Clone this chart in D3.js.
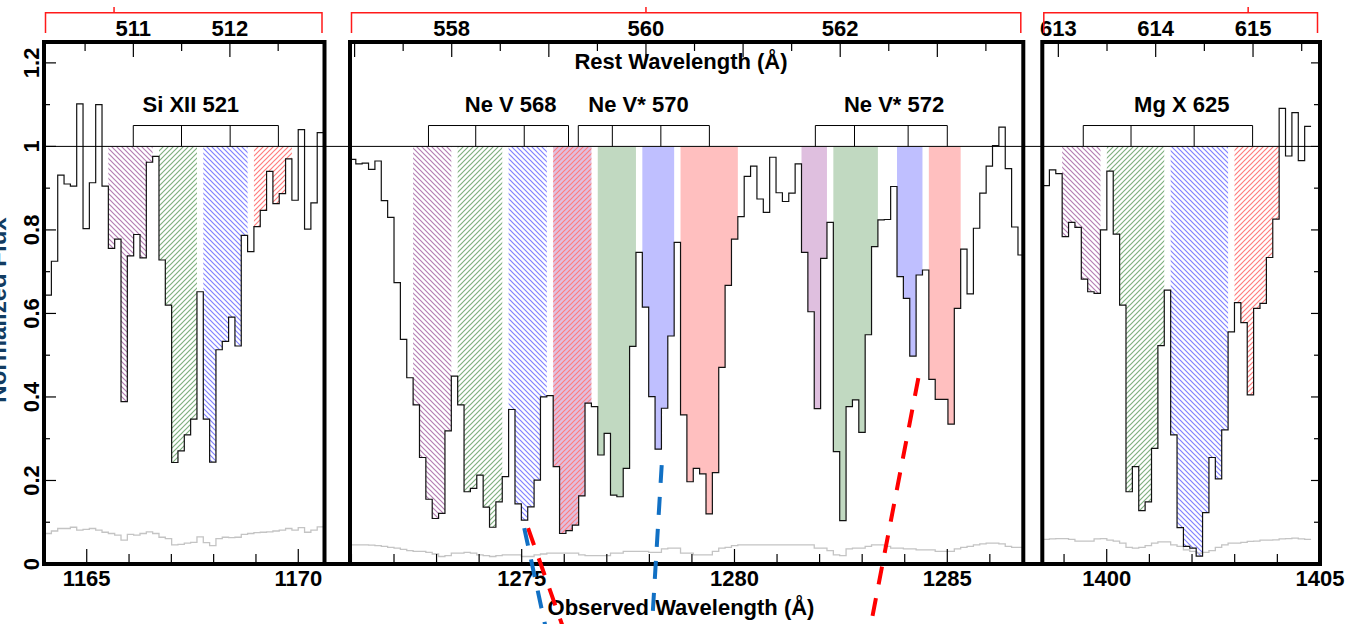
<!DOCTYPE html>
<html>
<head>
<meta charset="utf-8">
<script src="https://cdn.jsdelivr.net/npm/d3@7"></script>
<style>
  body { margin: 0; background: #fff; }
  svg { display: block; }
  text { font-family: "Liberation Sans", Arial, sans-serif; font-weight: bold; fill: #000; }
</style>
</head>
<body>
<div id="chart"></div>
<script>
// ---- data ----
const binWidth = 0.1496;      // observed Angstrom per pixel
const restFactor = 2.282;     // 1 + z used for the rest-frame axis

// observed wavelength of the first pixel in each window
const leftStart = 1164.015;
const midStart = 1270.953;
const rightStart = 1398.507;

const leftFlux = [0.644, 0.725, 0.931, 0.91, 0.905, 1.102, 0.803, 0.913, 1.10, 0.905,
  0.756, 0.778, 0.389, 0.738, 0.789, 0.733, 0.962, 0.976, 0.728, 0.62,
  0.243, 0.271, 0.309, 0.347, 0.652, 0.347, 0.244, 0.513, 0.533, 0.591,
  0.522, 0.787, 0.748, 0.808, 0.847, 0.94, 0.863, 0.887, 0.97, 0.871,
  1.04, 0.802, 0.865, 1.033];
const leftErr = [0.073, 0.079, 0.085, 0.085, 0.088, 0.081, 0.083, 0.085, 0.081, 0.076,
  0.073, 0.069, 0.057, 0.071, 0.069, 0.073, 0.077, 0.073, 0.064, 0.061,
  0.046, 0.047, 0.05, 0.052, 0.065, 0.051, 0.044, 0.061, 0.064, 0.063,
  0.064, 0.071, 0.073, 0.075, 0.076, 0.077, 0.079, 0.081, 0.085, 0.081,
  0.087, 0.076, 0.081, 0.089];

const midFlux = [0.969, 0.958, 0.96, 0.945, 0.965, 0.87, 0.83, 0.674, 0.538, 0.446,
  0.381, 0.255, 0.155, 0.109, 0.121, 0.319, 0.45, 0.381, 0.173, 0.181,
  0.213, 0.136, 0.088, 0.149, 0.209, 0.37, 0.144, 0.105, 0.137, 0.201,
  0.40, 0.403, 0.233, 0.073, 0.08, 0.093, 0.163, 0.385, 0.377, 0.261,
  0.313, 0.165, 0.161, 0.229, 0.521, 0.746, 0.615, 0.401, 0.275, 0.373,
  0.546, 0.77, 0.357, 0.197, 0.229, 0.216, 0.12, 0.219, 0.471, 0.667,
  0.778, 0.832, 0.928, 0.953, 0.874, 0.842, 0.974, 0.889, 0.868, 0.888,
  0.958, 0.746, 0.604, 0.372, 0.732, 0.818, 0.269, 0.104, 0.377, 0.393,
  0.315, 0.549, 0.76, 0.824, 0.825, 0.904, 0.688, 0.636, 0.498, 0.692,
  0.704, 0.442, 0.394, 0.394, 0.335, 0.612, 0.754, 0.647, 0.804, 0.888,
  0.953, 1.002, 1.046, 0.947, 0.807, 0.74];
const midErr = [0.046, 0.046, 0.046, 0.045, 0.044, 0.042, 0.04, 0.038, 0.035, 0.032,
  0.03, 0.03, 0.028, 0.024, 0.018, 0.02, 0.026, 0.026, 0.028, 0.026,
  0.022, 0.02, 0.018, 0.02, 0.022, 0.022, 0.022, 0.018, 0.018, 0.022,
  0.024, 0.026, 0.026, 0.026, 0.026, 0.026, 0.022, 0.02, 0.02, 0.02,
  0.02, 0.026, 0.026, 0.03, 0.03, 0.03, 0.03, 0.028, 0.028, 0.036,
  0.038, 0.038, 0.026, 0.026, 0.022, 0.022, 0.022, 0.03, 0.038, 0.04,
  0.044, 0.046, 0.046, 0.046, 0.046, 0.046, 0.046, 0.046, 0.046, 0.046,
  0.046, 0.046, 0.046, 0.038, 0.038, 0.032, 0.022, 0.02, 0.036, 0.038,
  0.038, 0.042, 0.046, 0.046, 0.042, 0.038, 0.038, 0.036, 0.036, 0.034,
  0.034, 0.034, 0.03, 0.03, 0.03, 0.036, 0.04, 0.042, 0.046, 0.048,
  0.05, 0.05, 0.048, 0.042, 0.04, 0.04];

const rightFlux = [0.906, 0.944, 0.935, 0.784, 0.818, 0.806, 0.682, 0.652, 0.648, 0.8,
  0.941, 0.79, 0.62, 0.173, 0.233, 0.128, 0.149, 0.277, 0.523, 0.656,
  0.309, 0.087, 0.042, 0.038, 0.019, 0.123, 0.255, 0.204, 0.321, 0.556,
  0.626, 0.578, 0.405, 0.612, 0.624, 0.734, 0.826, 1.091, 0.977, 1.081,
  0.966, 1.048];
const rightErr = [0.059, 0.06, 0.061, 0.061, 0.059, 0.055, 0.055, 0.055, 0.06, 0.061,
  0.057, 0.055, 0.05, 0.04, 0.038, 0.04, 0.044, 0.05, 0.053, 0.053,
  0.046, 0.042, 0.034, 0.03, 0.026, 0.028, 0.032, 0.04, 0.046, 0.05,
  0.05, 0.052, 0.054, 0.055, 0.057, 0.057, 0.058, 0.06, 0.061, 0.062,
  0.06, 0.059];

// transitions: label, label position, component positions (observed A),
// and the pixel ranges (1-based, inclusive) shaded for each component
const lineNames = ["Si XII 521", "Ne V 568", "Ne V* 570", "Ne V* 572", "Mg X 625"];
const lineLabelWave = [1167.46, 1274.74, 1277.745, 1283.75, 1401.76];
const siXIIComps = [1166.10, 1167.24, 1168.39, 1169.53];
const neV568Comps = [1272.81, 1273.92, 1275.06, 1276.10];
const neV570Comps = [1276.33, 1277.13, 1278.27, 1279.41];
const neV572Comps = [1281.90, 1282.82, 1284.08, 1285.00];
const mgXComps = [1399.45, 1400.57, 1402.05, 1403.42];
const siXIIBins = [[11, 17], [19, 24], [26, 32], [34, 39]];
const neV568Bins = [[11, 16], [18, 24], [26, 31], [33, 38]];
const neV570Bins = [[33, 38], [40, 45], [47, 51], [53, 61]];
const neV572Bins = [[72, 75], [77, 83], [87, 90], [92, 96]];
const mgXBins = [[4, 9], [11, 19], [21, 29], [31, 37]];

// axis labels
const leftObsTicks = [1165, 1170];
const midObsTicks = [1275, 1280, 1285];
const rightObsTicks = [1400, 1405];
const leftRestLabels = [511, 512];
const midRestLabels = [558, 560, 562];
const rightRestLabels = [613, 614, 615];
const restMarks = [510.8, 560.0, 614.95];
const fluxTicks = [0, 0.2, 0.4, 0.6, 0.8, 1, 1.2];

// guide lines drawn over the middle window: [observed A, flux] pairs
const redGuides = [[[1275.15, 0.086], [1276.0, -0.16]], [[1284.32, 0.445], [1283.1, -0.2]]];
const blueGuides = [[[1275.06, 0.086], [1275.58, -0.16]], [[1278.29, 0.237], [1278.03, -0.2]]];

// ---- drawing ----
const width = 1350, height = 624;
const yTop = 42, yBottom = 564;
const compOrder = ["purple", "green", "blue", "red"];
const hatchColor = { purple: "#b47eb4", green: "#7fb07f", blue: "#8282ff", red: "#ff7d7d" };
const solidColor = { purple: "#dfbfdf", green: "#c1d9c1", blue: "#bfbfff", red: "#ffbfbf" };
const hatchDir = { purple: "down", green: "up", blue: "down", red: "up" };

const y = d3.scaleLinear().domain([0, 1.25]).range([yBottom, yTop]);

const svg = d3.select("#chart").append("svg")
    .attr("width", width)
    .attr("height", height);
const defs = svg.append("defs");

compOrder.forEach(c => {
    const p = defs.append("pattern")
        .attr("id", "hatch-" + c)
        .attr("patternUnits", "userSpaceOnUse")
        .attr("width", 5).attr("height", 5);
    const d = hatchDir[c] === "up"
        ? "M-1,1 l2,-2 M0,5 l5,-5 M4,6 l2,-2"
        : "M-1,4 l2,2 M0,0 l5,5 M4,-1 l2,2";
    p.append("path").attr("d", d)
        .attr("stroke", hatchColor[c])
        .attr("stroke-width", 1.2);
});

const panels = [
    { start: leftStart, flux: leftFlux, err: leftErr, domain: [1163.99, 1170.62], range: [44, 324.5],
      obsTicks: leftObsTicks, restLabels: leftRestLabels, restMark: restMarks[0],
      lines: [{ name: 0, comps: siXIIComps, bins: siXIIBins, kind: "hatch" }] },
    { start: midStart, flux: midFlux, err: midErr, domain: [1270.966, 1286.786], range: [350, 1023.3],
      obsTicks: midObsTicks, restLabels: midRestLabels, restMark: restMarks[1],
      lines: [{ name: 2, comps: neV570Comps, bins: neV570Bins, kind: "solid" },
              { name: 3, comps: neV572Comps, bins: neV572Bins, kind: "solid" },
              { name: 1, comps: neV568Comps, bins: neV568Bins, kind: "hatch" }] },
    { start: rightStart, flux: rightFlux, err: rightErr, domain: [1398.49, 1405], range: [1042.3, 1320],
      obsTicks: rightObsTicks, restLabels: rightRestLabels, restMark: restMarks[2],
      lines: [{ name: 4, comps: mgXComps, bins: mgXBins, kind: "hatch" }] }
];

const stepPoints = (start, arr) => arr.map((f, i) => [start + i * binWidth, f])
    .concat([[start + arr.length * binWidth, arr[arr.length - 1]]]);

panels.forEach((p, pi) => {
    const x = d3.scaleLinear().domain(p.domain).range(p.range);
    p.x = x;
    const clipId = "clip" + pi;
    defs.append("clipPath").attr("id", clipId)
        .append("rect")
        .attr("x", p.range[0]).attr("y", yTop)
        .attr("width", p.range[1] - p.range[0]).attr("height", yBottom - yTop);

    const g = svg.append("g").attr("clip-path", "url(#" + clipId + ")");

    const area = d3.area().curve(d3.curveStepAfter)
        .x(d => x(d[0])).y0(y(1)).y1(d => y(Math.min(d[1], 1)));

    p.lines.forEach(ln => {
        ln.bins.forEach((b, ci) => {
            const seg = d3.range(b[0] - 1, b[1]).map(i => [p.start + i * binWidth, p.flux[i]]);
            seg.push([p.start + b[1] * binWidth, p.flux[b[1] - 1]]);
            const c = compOrder[ci];
            g.append("path")
                .attr("d", area(seg))
                .attr("fill", ln.kind === "solid" ? solidColor[c] : "url(#hatch-" + c + ")");
        });
    });

    const line = d3.line().curve(d3.curveStepAfter).x(d => x(d[0])).y(d => y(d[1]));
    g.append("path").attr("d", line(stepPoints(p.start, p.err)))
        .attr("fill", "none").attr("stroke", "#c4c4c4").attr("stroke-width", 1.3);
    g.append("path").attr("d", line(stepPoints(p.start, p.flux)))
        .attr("fill", "none").attr("stroke", "#111").attr("stroke-width", 1.2);

    // component brackets and line names
    p.lines.forEach(ln => {
        const cx = ln.comps.map(x);
        svg.append("line").attr("x1", cx[0]).attr("x2", cx[cx.length - 1])
            .attr("y1", y(1.05)).attr("y2", y(1.05))
            .attr("stroke", "#000").attr("stroke-width", 1);
        cx.forEach(v => svg.append("line").attr("x1", v).attr("x2", v)
            .attr("y1", y(1.05)).attr("y2", y(1))
            .attr("stroke", "#000").attr("stroke-width", 1));
        svg.append("text").attr("x", x(lineLabelWave[ln.name])).attr("y", 112)
            .attr("text-anchor", "middle").attr("font-size", 22)
            .text(lineNames[ln.name]);
    });

    // observed-wavelength ticks along the bottom
    d3.range(Math.ceil(p.domain[0]), Math.floor(p.domain[1]) + 1).forEach(t => {
        svg.append("line").attr("x1", x(t)).attr("x2", x(t))
            .attr("y1", yBottom).attr("y2", yBottom - (t % 5 === 0 ? 15 : 10))
            .attr("stroke", "#000").attr("stroke-width", 1.2);
    });
    p.obsTicks.forEach(t => svg.append("text")
        .attr("x", x(t)).attr("y", 586).attr("text-anchor", "middle")
        .attr("font-size", 22).text(t));

    // rest-wavelength ticks along the top
    const r0 = Math.ceil(p.domain[0] / restFactor * 2) / 2;
    const r1 = Math.floor(p.domain[1] / restFactor * 2) / 2;
    d3.range(r0, r1 + 0.01, 0.5).forEach(r => {
        const xr = x(r * restFactor);
        svg.append("line").attr("x1", xr).attr("x2", xr)
            .attr("y1", yTop).attr("y2", yTop + (Number.isInteger(r) ? 15 : 9))
            .attr("stroke", "#000").attr("stroke-width", 1.2);
    });
    p.restLabels.forEach(r => svg.append("text")
        .attr("x", x(r * restFactor)).attr("y", 36).attr("text-anchor", "middle")
        .attr("font-size", 22).text(r));

    // red rest-frame bracket above the panel
    const ry = 12.7, rx0 = p.range[0] + 1.5, rx1 = p.range[1] - 2.5;
    svg.append("path")
        .attr("d", `M${rx0},33V${ry}H${rx1}V33`)
        .attr("fill", "none").attr("stroke", "#ff1a1a").attr("stroke-width", 1.5);
    const mx = x(p.restMark * restFactor);
    svg.append("line").attr("x1", mx).attr("x2", mx).attr("y1", ry).attr("y2", 7)
        .attr("stroke", "#ff1a1a").attr("stroke-width", 1.5);

    // frame
    svg.append("rect")
        .attr("x", p.range[0]).attr("y", yTop)
        .attr("width", p.range[1] - p.range[0]).attr("height", yBottom - yTop)
        .attr("fill", "none").attr("stroke", "#000").attr("stroke-width", 4);
});

// continuum line across all windows
const last = panels[2];
svg.append("line")
    .attr("x1", panels[0].range[0]).attr("x2", last.x(last.start + last.flux.length * binWidth))
    .attr("y1", y(1)).attr("y2", y(1))
    .attr("stroke", "#000").attr("stroke-width", 1);

// continuous bottom border
svg.append("line").attr("x1", panels[0].range[0]).attr("x2", last.range[1])
    .attr("y1", yBottom).attr("y2", yBottom)
    .attr("stroke", "#000").attr("stroke-width", 4);

// flux axis on the left window, plain ticks on the right window
const leftX = panels[0].range[0], rightX = last.range[1];
d3.range(1, 13).forEach(k => {
    const v = k / 10;
    const major = k % 2 === 0;
    svg.append("line").attr("x1", leftX).attr("x2", leftX + (major ? 12 : 6))
        .attr("y1", y(v)).attr("y2", y(v)).attr("stroke", "#000").attr("stroke-width", 1.2);
    svg.append("line").attr("x1", rightX).attr("x2", rightX - (major ? 9 : 6))
        .attr("y1", y(v)).attr("y2", y(v)).attr("stroke", "#000").attr("stroke-width", 1.2);
});
fluxTicks.forEach(v => svg.append("text")
    .attr("transform", `translate(38.5,${y(v)}) rotate(-90)`)
    .attr("text-anchor", "middle").attr("font-size", 22)
    .text(String(+v.toFixed(1))));

// y title sits mostly beyond the left edge, as in the source figure
svg.append("text")
    .attr("transform", "translate(6,310) rotate(-90)")
    .attr("text-anchor", "middle").attr("font-size", 24)
    .style("fill", "#123c62")
    .text("Normalized Flux");

// axis titles
const mid = panels[1];
svg.append("text").attr("x", 681).attr("y", 69).attr("text-anchor", "middle")
    .attr("font-size", 22).text("Rest Wavelength (Å)");
svg.append("text").attr("x", 681).attr("y", 615).attr("text-anchor", "middle")
    .attr("font-size", 22).text("Observed Wavelength (Å)");

// dashed guides
const guide = d3.line().x(d => mid.x(d[0])).y(d => y(d[1]));
redGuides.forEach(gd => svg.append("path").attr("d", guide(gd))
    .attr("stroke", "#ff0000").attr("stroke-width", 4).attr("fill", "none")
    .attr("stroke-dasharray", "18,14"));
blueGuides.forEach(gd => svg.append("path").attr("d", guide(gd))
    .attr("stroke", "#1170c4").attr("stroke-width", 4).attr("fill", "none")
    .attr("stroke-dasharray", "18,14"));
</script>
</body>
</html>
